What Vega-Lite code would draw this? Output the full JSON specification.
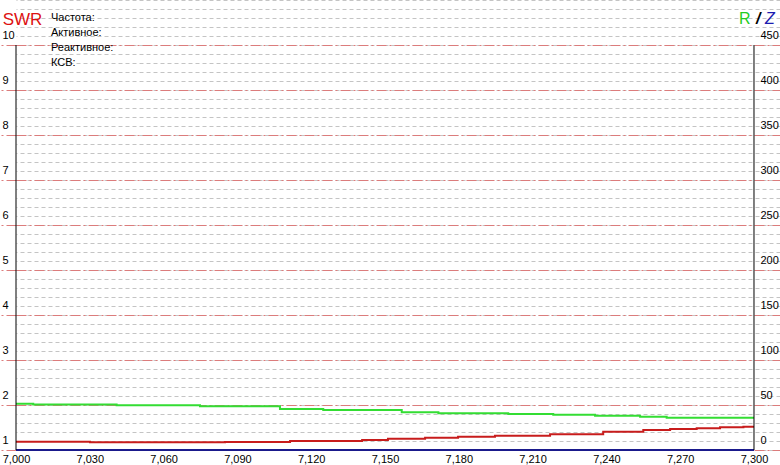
{
  "$schema": "https://vega.github.io/schema/vega-lite/v6.json",
  "width": 764,
  "height": 450,
  "padding": {"left": 16, "top": 0, "right": 0, "bottom": 15},
  "autosize": {"type": "none"},
  "background": "white",
  "config": {
    "view": {"stroke": null},
    "font": "Liberation Sans",
    "axis": {"labelFont": "Liberation Sans", "labelFontSize": 11, "labelColor": "#000000", "title": null}
  },
  "encoding": {
    "x": {
      "field": "f",
      "type": "quantitative",
      "scale": {"domain": [7000, 7310.57], "nice": false, "zero": false},
      "axis": {
        "values": [7000, 7030, 7060, 7090, 7120, 7150, 7180, 7210, 7240, 7270, 7300],
        "format": ",d",
        "grid": false,
        "ticks": false,
        "tickSize": 0,
        "domain": false,
        "labelPadding": 3,
        "labelBaseline": "top",
        "labelFlush": false,
        "labelOverlap": false
      }
    }
  },
  "layer": [
    {
      "encoding": {
        "y": {
          "field": "r",
          "type": "quantitative",
          "scale": {"domain": [0, 500], "nice": false, "zero": false},
          "axis": {
            "orient": "right",
            "offset": -26,
            "values": [0,10,20,30,40,50,60,70,80,90,100,110,120,130,140,150,160,170,180,190,200,210,220,230,240,250,260,270,280,290,300,310,320,330,340,350,360,370,380,390,400,410,420,430,440,450,460,470,480,490,500],
            "labelExpr": "datum.value % 50 == 0 && datum.value <= 450 ? datum.label : ''",
            "grid": true,
            "gridColor": "#c4c4c4",
            "gridDash": [4, 3],
            "gridWidth": 1,
            "ticks": false,
            "tickSize": 0,
            "domain": false,
            "labelPadding": 6,
            "labelAlign": "left",
            "labelBaseline": "middle",
            "labelOffset": -10,
            "labelFontSize": 11,
            "labelFlush": false,
            "labelOverlap": false
          }
        }
      },
      "layer": [
        {
          "data": {"values": [
            {"f": 7000, "r": 51.4},
            {"f": 7007.0, "r": 50.6},
            {"f": 7040.9, "r": 49.7},
            {"f": 7074.8, "r": 48.7},
            {"f": 7107.3, "r": 45.6},
            {"f": 7124.9, "r": 44.4},
            {"f": 7156.8, "r": 41.9},
            {"f": 7171.7, "r": 40.7},
            {"f": 7200.1, "r": 40.1},
            {"f": 7218.4, "r": 39.2},
            {"f": 7235.4, "r": 38.1},
            {"f": 7253.7, "r": 37.0},
            {"f": 7264.5, "r": 35.9},
            {"f": 7300, "r": 35.9}
          ]},
          "mark": {"type": "line", "interpolate": "step-after", "color": "#33dd33", "strokeWidth": 2}
        },
        {
          "data": {"values": [
            {"f": 7000, "r": 0},
            {"f": 7300, "r": 0}
          ]},
          "mark": {"type": "line", "color": "#1a1a8c", "strokeWidth": 2}
        }
      ]
    },
    {
      "encoding": {
        "y": {
          "field": "swr",
          "type": "quantitative",
          "scale": {"domain": [1, 11], "nice": false, "zero": false},
          "axis": {
            "orient": "left",
            "values": [1, 2, 3, 4, 5, 6, 7, 8, 9, 10],
            "grid": true,
            "gridColor": "#dc7c7c",
            "gridDash": [10, 3, 2, 3],
            "gridWidth": 1,
            "ticks": true,
            "tickSize": 16,
            "tickColor": "#dc7c7c",
            "tickDash": [10, 3, 2, 3],
            "domain": false,
            "labelAlign": "left",
            "labelPadding": -2,
            "labelBaseline": "middle",
            "labelOffset": -10,
            "labelFontSize": 11,
            "labelFlush": false,
            "labelOverlap": false
          }
        }
      },
      "layer": [
        {
          "data": {"values": [
            {"f": 7000, "swr": 1.185},
            {"f": 7030.1, "swr": 1.172},
            {"f": 7085.0, "swr": 1.18},
            {"f": 7111.4, "swr": 1.2},
            {"f": 7140.7, "swr": 1.222},
            {"f": 7151.2, "swr": 1.251},
            {"f": 7166.3, "swr": 1.273},
            {"f": 7179.7, "swr": 1.296},
            {"f": 7194.7, "swr": 1.318},
            {"f": 7217.1, "swr": 1.349},
            {"f": 7238.7, "swr": 1.407},
            {"f": 7255.0, "swr": 1.444},
            {"f": 7265.9, "swr": 1.467},
            {"f": 7276.7, "swr": 1.482},
            {"f": 7286.2, "swr": 1.504},
            {"f": 7295.7, "swr": 1.518},
            {"f": 7300, "swr": 1.518}
          ]},
          "mark": {"type": "line", "interpolate": "step-after", "color": "#c81c1c", "strokeWidth": 2}
        },
        {
          "data": {"values": [
            {"f": 7000, "swr": 1, "swr2": 10},
            {"f": 7300, "swr": 1, "swr2": 10}
          ]},
          "mark": {"type": "rule", "color": "#000000", "strokeWidth": 1},
          "encoding": {"y2": {"field": "swr2"}}
        },
        {
          "data": {"values": [{"t": "SWR", "f": 6994.6, "swr": 10.444}]},
          "mark": {"type": "text", "align": "left", "baseline": "alphabetic", "fontSize": 17, "color": "#dd1111", "font": "Liberation Sans"},
          "encoding": {"text": {"field": "t"}}
        },
        {
          "data": {"values": [{"t": "Частота:\nАктивное:\nРеактивное:\nКСВ:", "f": 7014.2, "swr": 10.533}]},
          "mark": {"type": "text", "align": "left", "baseline": "alphabetic", "fontSize": 11, "lineBreak": "\n", "lineHeight": 15, "color": "#000000", "font": "Liberation Sans"},
          "encoding": {"text": {"field": "t"}}
        },
        {
          "data": {"values": [{"t": "R", "f": 7293.9, "swr": 10.456}]},
          "mark": {"type": "text", "align": "left", "baseline": "alphabetic", "fontSize": 16, "color": "#22cc22", "font": "Liberation Sans"},
          "encoding": {"text": {"field": "t"}}
        },
        {
          "data": {"values": [{"t": "/", "f": 7300.8, "swr": 10.456}]},
          "mark": {"type": "text", "align": "left", "baseline": "alphabetic", "fontSize": 16, "fontWeight": "bold", "fontStyle": "italic", "color": "#000000", "font": "Liberation Sans"},
          "encoding": {"text": {"field": "t"}}
        },
        {
          "data": {"values": [{"t": "Z", "f": 7304.5, "swr": 10.456}]},
          "mark": {"type": "text", "align": "left", "baseline": "alphabetic", "fontSize": 16, "fontStyle": "italic", "color": "#1c1cb0", "font": "Liberation Sans"},
          "encoding": {"text": {"field": "t"}}
        }
      ]
    }
  ],
  "resolve": {"scale": {"y": "independent"}, "axis": {"y": "independent"}}
}
